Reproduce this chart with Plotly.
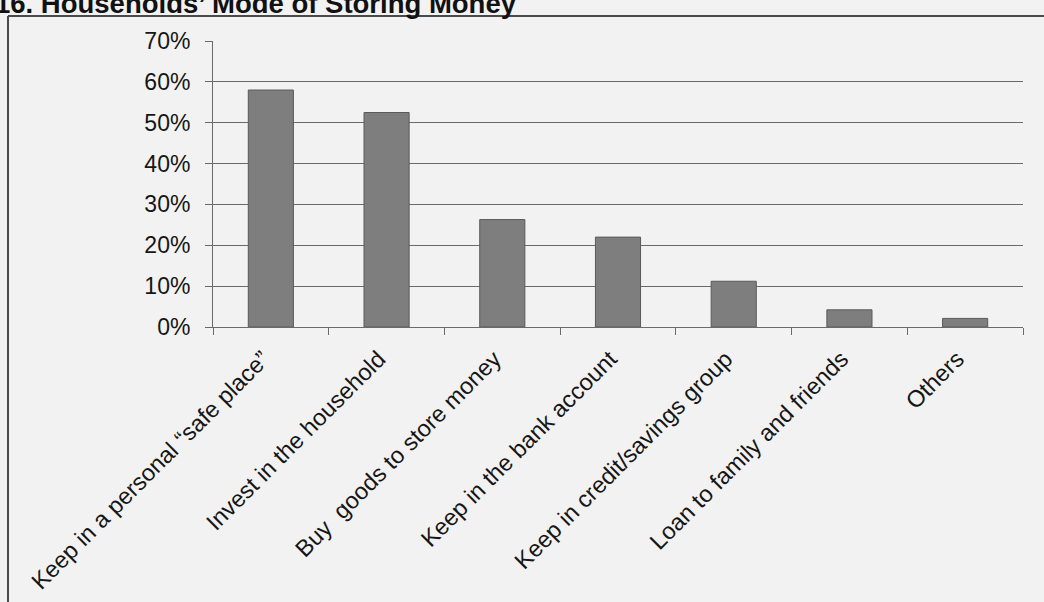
import plotly.graph_objects as go

# Survey results: how households store their money
categories = [
    "Keep in a personal \u201csafe place\u201d",
    "Invest in the household",
    "Buy  goods to store money",
    "Keep in the bank account",
    "Keep in credit/savings group",
    "Loan to family and friends",
    "Others",
]
shares = [0.58, 0.525, 0.263, 0.22, 0.112, 0.042, 0.021]
y_ticks = [0, 0.1, 0.2, 0.3, 0.4, 0.5, 0.6, 0.7]
y_tick_text = ["0%", "10%", "20%", "30%", "40%", "50%", "60%", "70%"]
title_text = "16. Households\u2019 Mode of Storing Money"

W, H = 1044, 602
L, R, T, B = 213, 21, 41, 275
PW, PH = W - L - R, H - T - B

def px_x(px):
    return (px - L) / PW

def px_y(py):
    return (H - B - py) / PH

FONT = "Arial, Liberation Sans, Helvetica, sans-serif"
BG = "#f2f2f2"
GRID = "#6a6a6a"
TEXT = "#161616"

fig = go.Figure(
    go.Bar(
        x=categories,
        y=shares,
        marker=dict(color="#7e7e7e", line=dict(color="#5a5a5a", width=1)),
        width=0.39,
        hoverinfo="x+y",
    )
)

fig.update_layout(
    width=W,
    height=H,
    margin=dict(l=L, r=R, t=T, b=B, pad=0, autoexpand=False),
    paper_bgcolor=BG,
    plot_bgcolor=BG,
    showlegend=False,
    font=dict(family=FONT, color=TEXT),
)

fig.update_yaxes(
    range=[0, 0.7],
    tickvals=y_ticks,
    ticktext=y_tick_text,
    tickfont=dict(size=23, color=TEXT),
    ticklabelstandoff=10,
    automargin=False,
    showgrid=True,
    gridcolor=GRID,
    gridwidth=1,
    showline=True,
    linecolor=GRID,
    linewidth=1,
    ticks="outside",
    ticklen=7,
    tickcolor=GRID,
    zeroline=False,
)

fig.update_xaxes(
    tickangle=-45,
    tickfont=dict(size=23.5, color=TEXT),
    ticklabelstandoff=8,
    ticklabelshift=-8,
    automargin=False,
    showline=True,
    linecolor=GRID,
    linewidth=1,
    ticks="outside",
    tickson="boundaries",
    ticklen=7,
    tickcolor=GRID,
    showgrid=False,
)

# frame around the figure block (left and top edges run inside the page)
fig.add_shape(type="line", xref="paper", yref="paper",
              x0=px_x(8), x1=px_x(1100), y0=px_y(16), y1=px_y(16),
              line=dict(color="#4a4a4a", width=2))
fig.add_shape(type="line", xref="paper", yref="paper",
              x0=px_x(8), x1=px_x(8), y0=px_y(16), y1=px_y(640),
              line=dict(color="#4a4a4a", width=2))

fig.add_annotation(
    text=f"<b>{title_text}</b>",
    xref="paper", yref="paper",
    x=px_x(-7), y=px_y(3.7),
    xanchor="left", yanchor="middle",
    showarrow=False,
    font=dict(size=27.5, color="#111111", family=FONT),
)

fig.write_html("out.html")
